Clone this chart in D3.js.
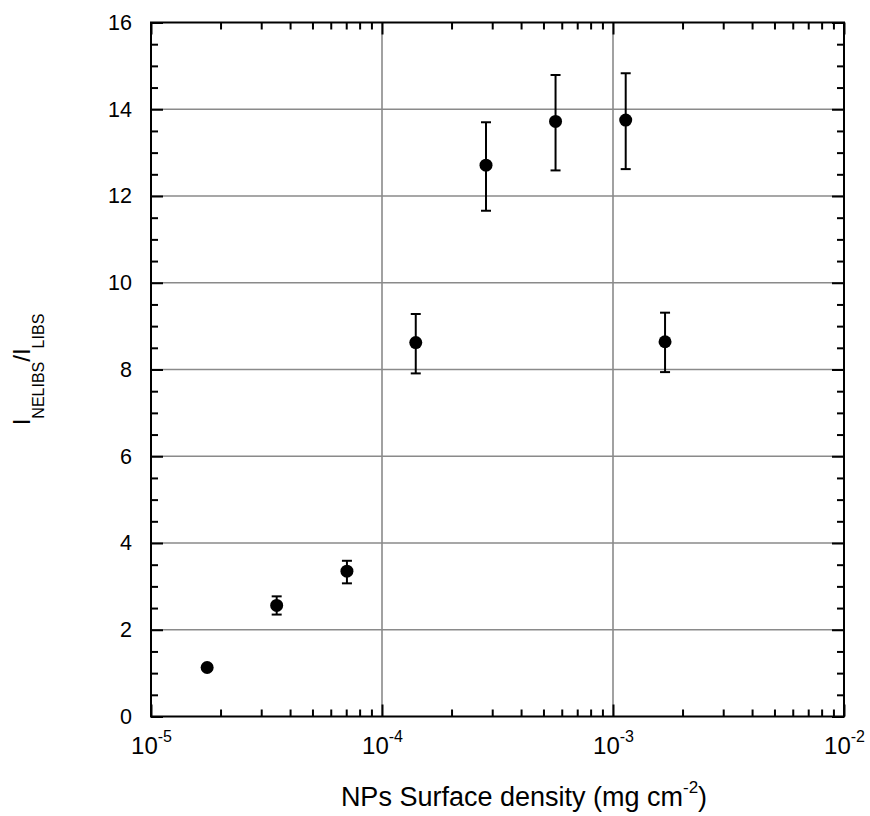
<!DOCTYPE html>
<html>
<head>
<meta charset="utf-8">
<script src="https://cdn.jsdelivr.net/npm/d3@7"></script>
<style>
  body { margin: 0; background: #fff; }
  svg { display: block; font-family: "Liberation Sans", Arial, sans-serif; }
</style>
</head>
<body>
<svg id="chart" width="870" height="816"></svg>
<script>
// density (mg cm^-2), ratio, error bar ends
const density = [1.75e-5, 3.5e-5, 7.05e-5, 1.4e-4, 2.82e-4, 5.64e-4, 1.135e-3, 1.68e-3];
const ratio   = [1.13, 2.56, 3.35, 8.62, 12.71, 13.72, 13.75, 8.64];
const errLow  = [1.07, 2.35, 3.07, 7.91, 11.66, 12.59, 12.62, 7.94];
const errHigh = [1.19, 2.77, 3.59, 9.28, 13.70, 14.79, 14.83, 9.31];

const yTicks = [0, 2, 4, 6, 8, 10, 12, 14, 16];
const xTicks = [1e-5, 1e-4, 1e-3, 1e-2];
const xTickExp = ["-5", "-4", "-3", "-2"];

const margin = { left: 151, right: 844, top: 22.5, bottom: 716.5 };
const font = "Liberation Sans, Arial, sans-serif";

const svg = d3.select("#chart");

const x = d3.scaleLog().domain([1e-5, 1e-2]).range([margin.left, margin.right]);
const y = d3.scaleLinear().domain([0, 16]).range([margin.bottom, margin.top]);

const xMinor = [];
for (let e = -5; e < -2; e++)
  for (let k = 2; k <= 9; k++) xMinor.push(k * Math.pow(10, e));
const yMinor = d3.range(0, 16.01, 0.5).filter(v => v % 2 !== 0);

// grid
const grid = svg.append("g").attr("stroke", "#8a8a8a").attr("stroke-width", 1.6);
grid.selectAll("line.gx")
  .data(xTicks.slice(1, -1))
  .enter().append("line")
  .attr("x1", d => x(d)).attr("x2", d => x(d))
  .attr("y1", margin.top).attr("y2", margin.bottom);
grid.selectAll("line.gy")
  .data(yTicks.slice(1, -1))
  .enter().append("line")
  .attr("x1", margin.left).attr("x2", margin.right)
  .attr("y1", d => y(d)).attr("y2", d => y(d));

function styleAxis(g) {
  g.select(".domain").remove();
  g.selectAll(".tick line").attr("stroke", "#000").attr("stroke-width", 2);
}

// minor ticks, all four sides
svg.append("g").attr("transform", `translate(${margin.left},0)`)
  .call(d3.axisLeft(y).tickValues(yMinor).tickSize(-7).tickFormat(""))
  .call(styleAxis);
svg.append("g").attr("transform", `translate(${margin.right},0)`)
  .call(d3.axisRight(y).tickValues(yMinor).tickSize(-7).tickFormat(""))
  .call(styleAxis);
svg.append("g").attr("transform", `translate(0,${margin.bottom})`)
  .call(d3.axisBottom(x).tickValues(xMinor).tickSize(-7).tickFormat(""))
  .call(styleAxis);
svg.append("g").attr("transform", `translate(0,${margin.top})`)
  .call(d3.axisTop(x).tickValues(xMinor).tickSize(-7).tickFormat(""))
  .call(styleAxis);

// major ticks
const yAxis = svg.append("g").attr("transform", `translate(${margin.left},0)`)
  .call(d3.axisLeft(y).tickValues(yTicks).tickSize(-12).tickPadding(19).tickFormat(d3.format("d")))
  .call(styleAxis);
yAxis.selectAll("text").attr("font-size", 21.5).attr("fill", "#000").attr("font-family", font);

svg.append("g").attr("transform", `translate(${margin.right},0)`)
  .call(d3.axisRight(y).tickValues(yTicks).tickSize(-12).tickFormat(""))
  .call(styleAxis);

const xAxis = svg.append("g").attr("transform", `translate(0,${margin.bottom})`)
  .call(d3.axisBottom(x).tickValues(xTicks).tickSize(-12).tickPadding(20).tickFormat(() => ""))
  .call(styleAxis);
xAxis.selectAll(".tick text").each(function(d, i) {
  const t = d3.select(this)
    .attr("font-size", 24).attr("fill", "#000").attr("font-family", font);
  t.text(null);
  t.append("tspan").text("10");
  t.append("tspan").attr("font-size", 16).attr("dy", "-0.75em").text(xTickExp[i]);
});

svg.append("g").attr("transform", `translate(0,${margin.top})`)
  .call(d3.axisTop(x).tickValues(xTicks).tickSize(-12).tickFormat(""))
  .call(styleAxis);

// frame
svg.append("rect")
  .attr("x", margin.left).attr("y", margin.top)
  .attr("width", margin.right - margin.left).attr("height", margin.bottom - margin.top)
  .attr("fill", "none").attr("stroke", "#000").attr("stroke-width", 2);

// error bars
const pts = density.map((d, i) => ({ d, v: ratio[i], lo: errLow[i], hi: errHigh[i] }));
const eb = svg.append("g").attr("stroke", "#000").attr("stroke-width", 2);
eb.selectAll("line.stem").data(pts).enter().append("line")
  .attr("x1", p => x(p.d)).attr("x2", p => x(p.d))
  .attr("y1", p => y(p.lo)).attr("y2", p => y(p.hi));
eb.selectAll("line.capHi").data(pts).enter().append("line")
  .attr("x1", p => x(p.d) - 5).attr("x2", p => x(p.d) + 5)
  .attr("y1", p => y(p.hi)).attr("y2", p => y(p.hi));
eb.selectAll("line.capLo").data(pts).enter().append("line")
  .attr("x1", p => x(p.d) - 5).attr("x2", p => x(p.d) + 5)
  .attr("y1", p => y(p.lo)).attr("y2", p => y(p.lo));

// markers
svg.append("g").selectAll("circle").data(pts).enter().append("circle")
  .attr("cx", p => x(p.d)).attr("cy", p => y(p.v))
  .attr("r", 6.5).attr("fill", "#000");

// x label
const xl = svg.append("text")
  .attr("x", 524).attr("y", 806)
  .attr("text-anchor", "middle").attr("font-size", 27).attr("fill", "#000")
  .attr("font-family", font);
xl.append("tspan").text("NPs Surface density (mg cm");
xl.append("tspan").attr("font-size", 17).attr("dy", "-0.75em").text("-2");
xl.append("tspan").attr("dy", "0.47em").text(")");

// y label
const yl = svg.append("text")
  .attr("transform", `translate(30,${(margin.top + margin.bottom) / 2}) rotate(-90)`)
  .attr("text-anchor", "middle").attr("font-size", 24).attr("fill", "#000")
  .attr("font-family", font);
yl.append("tspan").text("I");
yl.append("tspan").attr("font-size", 16).attr("dy", 14).text("NELIBS");
yl.append("tspan").attr("dy", -14).text("/I");
yl.append("tspan").attr("font-size", 16).attr("dy", 14).text("LIBS");
</script>
</body>
</html>
